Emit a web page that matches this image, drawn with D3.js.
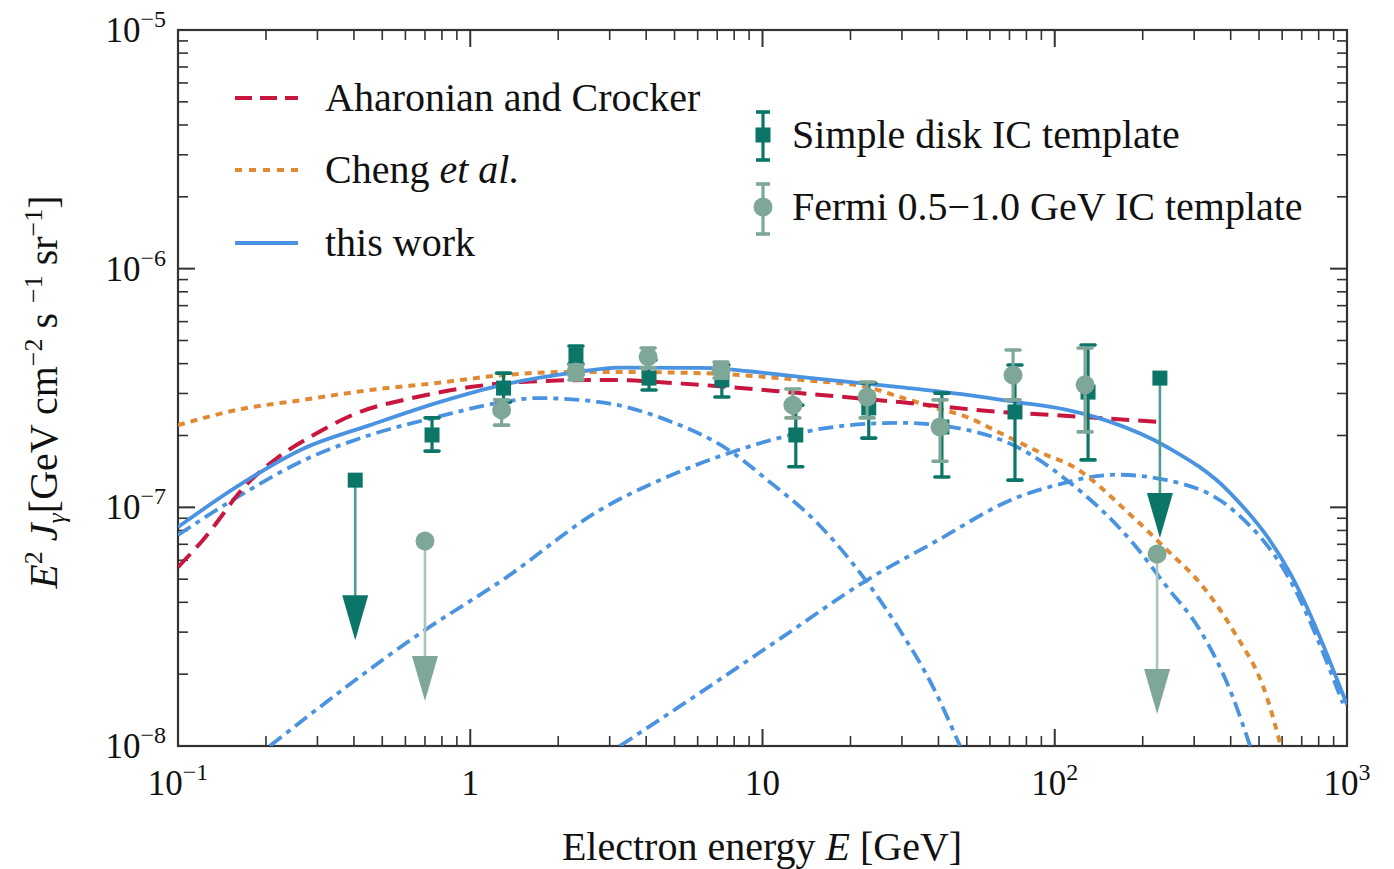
<!DOCTYPE html>
<html><head><meta charset="utf-8">
<script src="https://cdn.jsdelivr.net/npm/d3@7"></script>
<style>body{margin:0;background:#fff}svg{font-family:"Liberation Serif","Times New Roman",serif}</style>
</head><body><svg id="c" width="1394" height="869"></svg>
<script>
// ---- data ----
const xDomain = [0.1, 1000];
const yDomain = [1e-8, 1e-5];
const xTickLabels = [["10","−1"],["1",null],["10",null],["10","2"],["10","3"]];
const yTickLabels = [["10","−8"],["10","−7"],["10","−6"],["10","−5"]];

const aharonianE = [0.1,0.1218,0.172,0.22,0.283,0.409,0.657,1.0,1.48,2.85,6.11,13.4,29.5,65.0,96.4,229];
const aharonianY = [5.62e-8,7.30e-8,1.25e-7,1.62e-7,1.97e-7,2.48e-7,2.90e-7,3.19e-7,3.35e-7,3.42e-7,3.26e-7,3.01e-7,2.76e-7,2.51e-7,2.44e-7,2.28e-7];

const chengE = [0.1,0.159,0.268,0.454,0.769,1.29,2.19,3.25,6.11,13.4,22.8,29.5,38.3,50.1,65.0,96.4,110,185,242,314,407,532,594];
const chengY = [2.21e-7,2.56e-7,2.82e-7,3.10e-7,3.32e-7,3.58e-7,3.69e-7,3.69e-7,3.65e-7,3.42e-7,3.19e-7,2.90e-7,2.63e-7,2.39e-7,2.05e-7,1.63e-7,1.53e-7,9.11e-8,6.63e-8,4.82e-8,3.06e-8,1.60e-8,1.0e-8];

const thisWorkE = [0.1,0.159,0.268,0.454,0.769,1.29,2.19,3.25,6.11,13.4,29.5,50.1,74.3,110,155,242,398,638,1000];
const thisWorkY = [8.27e-8,1.22e-7,1.76e-7,2.21e-7,2.74e-7,3.26e-7,3.65e-7,3.85e-7,3.84e-7,3.52e-7,3.19e-7,2.96e-7,2.76e-7,2.56e-7,2.28e-7,1.79e-7,1.15e-7,5.31e-8,1.49e-8];

const comp1E = [0.1,0.159,0.268,0.454,0.769,1.29,1.69,2.78,4.71,7.93,10.4,15.4,22.1,29.5,38.3,47.4];
const comp1Y = [7.66e-8,1.10e-7,1.57e-7,2.01e-7,2.39e-7,2.76e-7,2.87e-7,2.76e-7,2.32e-7,1.69e-7,1.30e-7,8.60e-8,5.11e-8,3.06e-8,1.77e-8,1.0e-8];

const comp2E = [0.206,0.70,1.29,2.78,4.71,7.93,11.7,17.4,29.5,50.1,74.3,110,185,242,314,407,466];
const comp2Y = [1.0e-8,3.06e-8,4.96e-8,9.75e-8,1.34e-7,1.71e-7,1.97e-7,2.17e-7,2.26e-7,2.11e-7,1.79e-7,1.30e-7,7.09e-8,4.64e-8,3.06e-8,1.60e-8,1.0e-8];

const comp3E = [3.25,6.11,11.7,22.8,38.3,74.3,96.4,163,242,407,638,968];
const comp3Y = [1.0e-8,1.67e-8,2.86e-8,4.96e-8,7.09e-8,1.10e-7,1.22e-7,1.37e-7,1.30e-7,9.75e-8,4.96e-8,1.51e-8];

const diskE  = [0.74,1.30,2.30,4.09,7.26,13.0,23.1,41.1,73.1,130];
const diskY  = [2.01e-7,3.16e-7,4.35e-7,3.48e-7,3.42e-7,2.01e-7,2.61e-7,2.17e-7,2.51e-7,3.04e-7];
const diskHi = [2.37e-7,3.65e-7,4.74e-7,4.14e-7,3.95e-7,2.68e-7,3.32e-7,3.01e-7,3.95e-7,4.79e-7];
const diskLo = [1.72e-7,2.76e-7,3.99e-7,3.10e-7,2.90e-7,1.48e-7,1.95e-7,1.34e-7,1.30e-7,1.58e-7];
const diskUlE = [0.404,229];
const diskUlY = [1.30e-7,3.48e-7];

const fermiE  = [1.28,2.30,4.06,7.21,12.7,22.8,40.5,72.0,127];
const fermiY  = [2.56e-7,3.69e-7,4.27e-7,3.76e-7,2.68e-7,2.90e-7,2.17e-7,3.58e-7,3.26e-7];
const fermiHi = [2.82e-7,3.95e-7,4.65e-7,4.06e-7,3.13e-7,3.35e-7,2.82e-7,4.56e-7,4.65e-7];
const fermiLo = [2.21e-7,3.42e-7,3.84e-7,3.48e-7,2.37e-7,2.37e-7,1.56e-7,2.82e-7,2.07e-7];
const fermiUlE = [0.70,224];
const fermiUlY = [7.23e-8,6.38e-8];

// ---- styles ----
const C = {red:"#c8163f", orange:"#e08a34", blue:"#4a93e0", dark:"#0b7568", grey:"#7fa797", darkStem:"#4c9d92", greyStem:"#a9c6bb", axis:"#333"};
const L = 178, R = 1347, T = 30, B = 746;
const redDash = "18,9", orangeDash = "7,6", dashDot = "15,6,5,6";

const svg = d3.select("#c");
const x = d3.scaleLog().domain(xDomain).range([L, R]);
const y = d3.scaleLog().domain(yDomain).range([B, T]);

const defs = svg.append("defs");
defs.append("clipPath").attr("id","clip").append("rect").attr("x",L).attr("y",T).attr("width",R-L).attr("height",B-T);

// frame & ticks
const g = svg.append("g");
const xMajor = [0.1,1,10,100,1000];
const yMajor = [1e-8,1e-7,1e-6,1e-5];
const xMinor = [], yMinor = [];
for (const d of [0.1,1,10,100]) for (let k=2;k<=9;k++) xMinor.push(d*k);
for (const d of [1e-8,1e-7,1e-6]) for (let k=2;k<=9;k++) yMinor.push(d*k);

function tickSet(vals, len, w){
  vals.forEach(v=>{
    g.append("line").attr("x1",x(v)).attr("x2",x(v)).attr("y1",B).attr("y2",B-len).attr("stroke",C.axis).attr("stroke-width",w);
    g.append("line").attr("x1",x(v)).attr("x2",x(v)).attr("y1",T).attr("y2",T+len).attr("stroke",C.axis).attr("stroke-width",w);
  });
}
function tickSetY(vals, len, w){
  vals.forEach(v=>{
    g.append("line").attr("y1",y(v)).attr("y2",y(v)).attr("x1",L).attr("x2",L+len).attr("stroke",C.axis).attr("stroke-width",w);
    g.append("line").attr("y1",y(v)).attr("y2",y(v)).attr("x1",R).attr("x2",R-len).attr("stroke",C.axis).attr("stroke-width",w);
  });
}
tickSet(xMinor, 10, 1.6); tickSet(xMajor, 17, 2);
tickSetY(yMinor, 10, 1.6); tickSetY(yMajor, 17, 2);
g.append("rect").attr("x",L).attr("y",T).attr("width",R-L).attr("height",B-T).attr("fill","none").attr("stroke",C.axis).attr("stroke-width",2.2);

// tick labels
function powLabel(parent, px, py, lab, anchor){
  const t = parent.append("text").attr("x",px).attr("y",py).attr("text-anchor",anchor).attr("font-size",35).attr("fill","#111");
  t.append("tspan").text(lab[0]);
  if (lab[1]) t.append("tspan").attr("dy",-15).attr("font-size",24).text(lab[1]);
  return t;
}
xMajor.forEach((v,i)=> powLabel(svg, x(v), 795, xTickLabels[i], "middle"));
yMajor.forEach((v,i)=> powLabel(svg, 166, y(v)+12, yTickLabels[i], "end"));

// axis titles
const xt = svg.append("text").attr("x",762).attr("y",860).attr("text-anchor","middle").attr("font-size",40).attr("fill","#111");
xt.append("tspan").text("Electron energy ");
xt.append("tspan").attr("font-style","italic").text("E");
xt.append("tspan").text(" [GeV]");

const yt = svg.append("text").attr("transform","translate(57,392) rotate(-90)").attr("text-anchor","middle").attr("font-size",40).attr("fill","#111");
yt.append("tspan").attr("font-style","italic").text("E");
yt.append("tspan").attr("dy",-15).attr("font-size",26).text("2");
yt.append("tspan").attr("dy",15).attr("font-style","italic").text(" J");
yt.append("tspan").attr("dy",8).attr("font-size",26).attr("font-style","italic").text("γ");
yt.append("tspan").attr("dy",-8).text("[GeV cm");
yt.append("tspan").attr("dy",-15).attr("font-size",26).text("−2");
yt.append("tspan").attr("dy",15).text(" s ");
yt.append("tspan").attr("dy",-15).attr("font-size",26).text("−1");
yt.append("tspan").attr("dy",15).text(" sr");
yt.append("tspan").attr("dy",-15).attr("font-size",26).text("−1");
yt.append("tspan").attr("dy",15).text("]");

// curves
const plot = svg.append("g").attr("clip-path","url(#clip)");
const line = d3.line().x(d=>x(d[0])).y(d=>y(d[1])).curve(d3.curveMonotoneX);
function curve(E, Y, color, dash, w){
  plot.append("path").attr("d", line(E.map((e,i)=>[e,Y[i]]))).attr("fill","none")
    .attr("stroke",color).attr("stroke-width",w).attr("stroke-dasharray",dash);
}
curve(comp1E, comp1Y, C.blue, dashDot, 3.8);
curve(comp2E, comp2Y, C.blue, dashDot, 3.8);
curve(comp3E, comp3Y, C.blue, dashDot, 3.8);
curve(chengE, chengY, C.orange, orangeDash, 4);
curve(aharonianE, aharonianY, C.red, redDash, 4);
curve(thisWorkE, thisWorkY, C.blue, null, 3.8);

// data points
const pts = svg.append("g");
function errbars(E, Y, Hi, Lo, color){
  E.forEach((e,i)=>{
    const cx = x(e);
    pts.append("line").attr("x1",cx).attr("x2",cx).attr("y1",y(Hi[i])).attr("y2",y(Lo[i])).attr("stroke",color).attr("stroke-width",3.2);
    [Hi[i],Lo[i]].forEach(v=> pts.append("line").attr("x1",cx-7).attr("x2",cx+7).attr("y1",y(v)).attr("y2",y(v)).attr("stroke",color).attr("stroke-width",3.6).attr("stroke-linecap","round"));
  });
}
function upperLimits(E, Y, stemColor, headColor){
  const len = 160;
  E.forEach((e,i)=>{
    const cx = x(e), cy = y(Y[i]);
    pts.append("line").attr("x1",cx).attr("x2",cx).attr("y1",cy).attr("y2",cy+len-30).attr("stroke",stemColor).attr("stroke-width",2.6);
    pts.append("path").attr("d",`M${cx-13},${cy+len-45} L${cx+13},${cy+len-45} L${cx},${cy+len} Z`).attr("fill",headColor);
  });
}
function squares(E, Y, color){
  E.forEach((e,i)=> pts.append("rect").attr("x",x(e)-7.5).attr("y",y(Y[i])-7.5).attr("width",15).attr("height",15).attr("fill",color));
}
function circles(E, Y, color){
  E.forEach((e,i)=> pts.append("circle").attr("cx",x(e)).attr("cy",y(Y[i])).attr("r",9.5).attr("fill",color));
}
upperLimits(diskUlE, diskUlY, C.darkStem, C.dark);
upperLimits(fermiUlE, fermiUlY, C.greyStem, C.grey);
errbars(diskE, diskY, diskHi, diskLo, C.dark);
squares(diskE, diskY, C.dark);
squares(diskUlE, diskUlY, C.dark);
errbars(fermiE, fermiY, fermiHi, fermiLo, C.grey);
circles(fermiE, fermiY, C.grey);
circles(fermiUlE, fermiUlY, C.grey);

// legend (left)
const leg = svg.append("g");
const legRows = [
  {y:98, color:C.red, dash:"17,8", label:[["Aharonian and Crocker",false]]},
  {y:170, color:C.orange, dash:"7,7", label:[["Cheng ",false],["et al.",true]]},
  {y:243, color:C.blue, dash:null, label:[["this work",false]]}
];
legRows.forEach(r=>{
  leg.append("line").attr("x1",235).attr("x2",298).attr("y1",r.y).attr("y2",r.y).attr("stroke",r.color).attr("stroke-width",4).attr("stroke-dasharray",r.dash);
  const t = leg.append("text").attr("x",325).attr("y",r.y+13).attr("font-size",40).attr("fill","#111");
  r.label.forEach(([s,it])=> t.append("tspan").attr("font-style",it?"italic":"normal").text(s));
});
// legend (right)
function legMarker(cy, color, shape, top, bot, text){
  const cx = 763;
  leg.append("line").attr("x1",cx).attr("x2",cx).attr("y1",top).attr("y2",bot).attr("stroke",color).attr("stroke-width",3.2);
  [top,bot].forEach(v=> leg.append("line").attr("x1",cx-7).attr("x2",cx+7).attr("y1",v).attr("y2",v).attr("stroke",color).attr("stroke-width",3.6));
  if (shape==="sq") leg.append("rect").attr("x",cx-7.5).attr("y",cy-7.5).attr("width",15).attr("height",15).attr("fill",color);
  else leg.append("circle").attr("cx",cx).attr("cy",cy).attr("r",9.5).attr("fill",color);
  leg.append("text").attr("x",792).attr("y",cy+13).attr("font-size",40).attr("fill","#111").text(text);
}
legMarker(135, C.dark, "sq", 112, 160, "Simple disk IC template");
legMarker(207, C.grey, "ci", 184, 234, "Fermi 0.5−1.0 GeV IC template");
</script></body></html>
